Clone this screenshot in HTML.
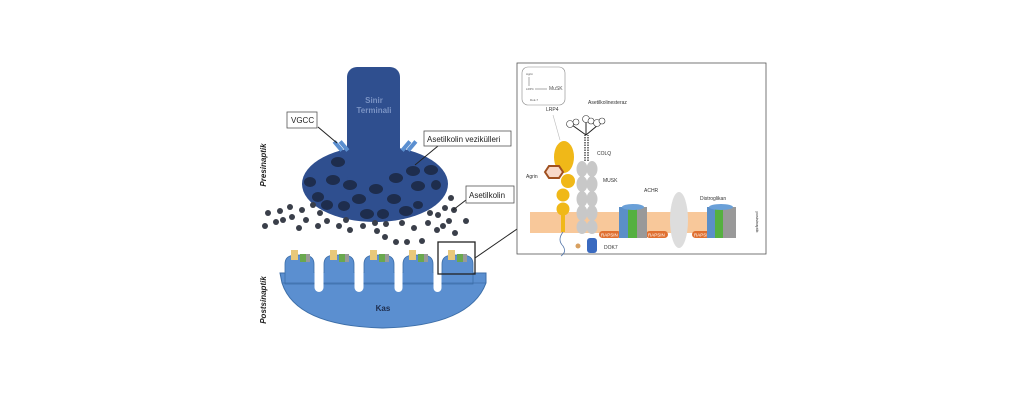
<!DOCTYPE html>
<html><head><meta charset="utf-8"><style>
body{margin:0;background:#fff;}
svg{display:block;font-family:"Liberation Sans",sans-serif;}
</style></head><body>
<svg width="1020" height="400" viewBox="0 0 1020 400">
<rect width="1020" height="400" fill="#fff"/>
<!-- nerve terminal -->
<ellipse cx="375" cy="184" rx="73" ry="38" fill="#2f4f8f"/>
<rect x="347" y="67" width="53" height="120" rx="10" fill="#2f4f8f"/>
<text x="374" y="103" font-size="8" font-weight="bold" fill="#7a93c4" text-anchor="middle">Sinir</text>
<text x="374" y="113" font-size="8" font-weight="bold" fill="#7a93c4" text-anchor="middle">Terminali</text>
<!-- VGCC channels -->
<g fill="#5b8fd0"><rect x="336" y="140" width="4" height="12" transform="rotate(-40 338 146)"/><rect x="342" y="140" width="4" height="12" transform="rotate(-40 344 146)"/>
<rect x="404" y="140" width="4" height="12" transform="rotate(40 406 146)"/><rect x="410" y="140" width="4" height="12" transform="rotate(40 412 146)"/></g>
<!-- vesicles -->
<g fill="#1e2d4d">
<ellipse cx="338" cy="162" rx="7" ry="5"/><ellipse cx="310" cy="182" rx="6" ry="5"/><ellipse cx="333" cy="180" rx="7" ry="5"/><ellipse cx="350" cy="185" rx="7" ry="5"/>
<ellipse cx="376" cy="189" rx="7" ry="5"/><ellipse cx="396" cy="178" rx="7" ry="5"/><ellipse cx="413" cy="171" rx="7" ry="5"/><ellipse cx="431" cy="170" rx="7" ry="5"/>
<ellipse cx="418" cy="186" rx="7" ry="5"/><ellipse cx="436" cy="185" rx="5" ry="5"/><ellipse cx="318" cy="197" rx="6" ry="5"/><ellipse cx="359" cy="199" rx="7" ry="5"/>
<ellipse cx="394" cy="199" rx="7" ry="5"/><ellipse cx="327" cy="205" rx="6" ry="5"/><ellipse cx="344" cy="206" rx="6" ry="5"/><ellipse cx="367" cy="214" rx="7" ry="5"/>
<ellipse cx="383" cy="214" rx="6" ry="5"/><ellipse cx="406" cy="211" rx="7" ry="5"/><ellipse cx="418" cy="205" rx="5" ry="4"/>
</g>
<g fill="#3a3f4a">
<circle cx="302" cy="210" r="3"/><circle cx="313" cy="205" r="3"/><circle cx="320" cy="213" r="3"/><circle cx="292" cy="217" r="3"/><circle cx="306" cy="220" r="3"/>
<circle cx="327" cy="221" r="3"/><circle cx="299" cy="228" r="3"/><circle cx="318" cy="226" r="3"/><circle cx="339" cy="226" r="3"/><circle cx="350" cy="230" r="3"/>
<circle cx="363" cy="226" r="3"/><circle cx="377" cy="231" r="3"/><circle cx="386" cy="224" r="3"/><circle cx="402" cy="223" r="3"/><circle cx="414" cy="228" r="3"/>
<circle cx="385" cy="237" r="3"/><circle cx="396" cy="242" r="3"/><circle cx="407" cy="242" r="3"/><circle cx="422" cy="241" r="3"/><circle cx="428" cy="223" r="3"/>
<circle cx="430" cy="213" r="3"/><circle cx="438" cy="215" r="3"/><circle cx="445" cy="208" r="3"/><circle cx="443" cy="226" r="3"/><circle cx="437" cy="230" r="3"/>
<circle cx="449" cy="221" r="3"/><circle cx="454" cy="210" r="3"/><circle cx="451" cy="198" r="3"/><circle cx="268" cy="213" r="3"/><circle cx="280" cy="211" r="3"/>
<circle cx="290" cy="207" r="3"/><circle cx="283" cy="220" r="3"/><circle cx="466" cy="221" r="3"/><circle cx="455" cy="233" r="3"/><circle cx="375" cy="223" r="3"/>
<circle cx="276" cy="222" r="3"/><circle cx="265" cy="226" r="3"/><circle cx="346" cy="220" r="3"/>
</g>
<!-- muscle -->
<path d="M280,273 L486,273 L486,283 Q470,326 383,328 Q296,326 282,283 Z" fill="#5b8fd0" stroke="#3c6ea8" stroke-width="1"/>
<g fill="#5b8fd0" stroke="#3c6ea8" stroke-width="0.8">
<path d="M285,284 V264 Q285,255 296,255 H303 Q314,255 314,264 V284 Z"/>
<path d="M324,284 V264 Q324,255 335,255 H343 Q354,255 354,264 V284 Z"/>
<path d="M364,284 V264 Q364,255 375,255 H383 Q394,255 394,264 V284 Z"/>
<path d="M403,284 V264 Q403,255 414,255 H422 Q433,255 433,264 V284 Z"/>
<path d="M442,284 V264 Q442,255 453,255 H462 Q473,255 473,264 V284 Z"/>
</g>
<rect x="286" y="273" width="186" height="10" fill="#5b8fd0"/>
<line x1="282" y1="283" x2="486" y2="283" stroke="#3c6ea8" stroke-width="0.8"/>
<g fill="#fff"><rect x="314.5" y="262" width="9" height="30" rx="4.5"/><rect x="354.5" y="262" width="9" height="30" rx="4.5"/><rect x="394.5" y="262" width="8" height="30" rx="4"/><rect x="433.5" y="262" width="8" height="30" rx="4"/></g>
<g>
<rect x="291" y="250" width="7" height="10" fill="#e8c87a"/><rect x="300" y="254" width="6" height="8" fill="#6aa84f"/><rect x="306" y="254" width="4" height="8" fill="#999"/>
<rect x="330" y="250" width="7" height="10" fill="#e8c87a"/><rect x="339" y="254" width="6" height="8" fill="#6aa84f"/><rect x="345" y="254" width="4" height="8" fill="#999"/>
<rect x="370" y="250" width="7" height="10" fill="#e8c87a"/><rect x="379" y="254" width="6" height="8" fill="#6aa84f"/><rect x="385" y="254" width="4" height="8" fill="#999"/>
<rect x="409" y="250" width="7" height="10" fill="#e8c87a"/><rect x="418" y="254" width="6" height="8" fill="#6aa84f"/><rect x="424" y="254" width="4" height="8" fill="#999"/>
<rect x="448" y="250" width="7" height="10" fill="#e8c87a"/><rect x="457" y="254" width="6" height="8" fill="#6aa84f"/><rect x="463" y="254" width="4" height="8" fill="#999"/>
</g>
<text x="383" y="311" font-size="8" font-weight="bold" fill="#1e2d4d" text-anchor="middle">Kas</text>
<!-- side labels -->
<text transform="translate(266,165) rotate(-90)" font-size="8" font-style="italic" font-weight="bold" fill="#222" text-anchor="middle">Presinaptik</text>
<text transform="translate(266,300) rotate(-90)" font-size="8" font-style="italic" font-weight="bold" fill="#222" text-anchor="middle">Postsinaptik</text>
<!-- callouts -->
<g stroke="#222" stroke-width="1" fill="none">
<line x1="318" y1="127" x2="337" y2="143"/>
<line x1="438" y1="146" x2="415" y2="165"/>
<line x1="466" y1="200" x2="453" y2="210"/>
<rect x="438" y="242" width="37" height="32" stroke-width="1.3"/>
<line x1="475" y1="258" x2="520" y2="227"/>
</g>
<g fill="#fff" stroke="#555" stroke-width="0.8">
<rect x="287" y="112" width="30" height="16"/><rect x="424" y="131" width="87" height="15"/><rect x="466" y="186" width="48" height="17"/>
</g>
<g font-size="8" fill="#222">
<text x="291" y="123">VGCC</text><text x="427" y="142">Asetilkolin vezikülleri</text><text x="469" y="198">Asetilkolin</text>
</g>
<!-- detail panel -->
<rect x="517" y="63" width="249" height="191" fill="#fff" stroke="#555" stroke-width="0.8"/>
<rect x="522" y="67" width="43" height="38" rx="6" fill="#fff" stroke="#888" stroke-width="0.6"/>
<g font-size="3" fill="#555"><text x="526" y="75">Agrin</text><text x="526" y="90">LRP4</text><text x="549" y="90" font-size="5">MuSK</text><text x="530" y="101">Dok-7</text></g>
<line x1="529" y1="77" x2="529" y2="86" stroke="#555" stroke-width="0.5"/><line x1="535" y1="89" x2="547" y2="89" stroke="#555" stroke-width="0.5"/>
<!-- membrane -->
<rect x="530" y="212" width="203" height="21" fill="#f8c89a"/>
<!-- LRP4 -->
<ellipse cx="564" cy="157" rx="10" ry="16" fill="#f0b818"/>
<circle cx="568" cy="181" r="7" fill="#f0b818"/><circle cx="563" cy="195" r="6.5" fill="#f0b818"/><circle cx="563" cy="209" r="6.5" fill="#f0b818"/>
<rect x="561" y="214" width="4" height="18" fill="#f0b818"/>
<path d="M563,232 Q557,240 563,246 Q567,252 561,256" stroke="#5577aa" fill="none" stroke-width="0.8"/>
<polygon points="545,172 549,166 559,166 563,172 559,178 549,178" fill="#f8d8c8" stroke="#a05020" stroke-width="2"/>
<text x="526" y="178" font-size="5" fill="#333">Agrin</text>
<text x="546" y="111" font-size="5" fill="#333">LRP4</text>
<line x1="553" y1="115" x2="560" y2="140" stroke="#bbb" stroke-width="0.6"/>
<!-- MuSK -->
<g fill="#c8c8c8"><ellipse cx="582" cy="169" rx="5.5" ry="8"/><ellipse cx="592" cy="169" rx="5.5" ry="8"/>
<ellipse cx="582" cy="184" rx="5.5" ry="8"/><ellipse cx="592" cy="184" rx="5.5" ry="8"/><ellipse cx="582" cy="199" rx="5.5" ry="8"/><ellipse cx="592" cy="199" rx="5.5" ry="8"/>
<ellipse cx="582" cy="213" rx="5.5" ry="8"/><ellipse cx="592" cy="213" rx="5.5" ry="8"/><ellipse cx="582" cy="227" rx="5.5" ry="7"/><ellipse cx="592" cy="227" rx="5.5" ry="7"/></g>
<text x="603" y="182" font-size="5" fill="#333">MUSK</text>
<text x="597" y="155" font-size="5" fill="#333">COLQ</text>
<text x="588" y="104" font-size="5" fill="#333">Asetilkolinesteraz</text>
<!-- ColQ stalk -->
<path d="M585,161 L585,135 M588,161 L588,135" stroke="#222" stroke-width="1.2" stroke-dasharray="1.5 1"/>
<path d="M586,135 L572,125 M586,135 L586,122 M586,135 L598,125" stroke="#222" stroke-width="1" fill="none"/>
<g fill="#fff" stroke="#333" stroke-width="0.6"><circle cx="570" cy="124" r="3.5"/><circle cx="576" cy="122" r="3"/><circle cx="586" cy="119" r="3.5"/><circle cx="591" cy="121" r="3"/><circle cx="597" cy="123" r="3.5"/><circle cx="602" cy="121" r="3"/></g>
<!-- rapsyn / Dok7 -->
<g fill="#e07030"><rect x="599" y="231" width="22" height="7" rx="3.5"/><rect x="646" y="231" width="22" height="7" rx="3.5"/><rect x="692" y="231" width="22" height="7" rx="3.5"/></g>
<g font-size="4.5" fill="#fff"><text x="601" y="236.5">RAPSIN</text><text x="648" y="236.5">RAPSIN</text><text x="694" y="236.5">RAPSIN</text></g>
<rect x="587" y="238" width="10" height="15" rx="3" fill="#3a6ac0"/>
<circle cx="578" cy="246" r="2.5" fill="#d8a060"/>
<text x="604" y="249" font-size="5" fill="#333">DOK7</text>
<!-- AChR 1 -->
<rect x="619" y="207" width="10" height="31" fill="#5b8fc8"/><rect x="628" y="207" width="10" height="31" fill="#55b040"/><rect x="637" y="207" width="10" height="31" fill="#999"/>
<ellipse cx="633" cy="207" rx="11" ry="3" fill="#6aa0d8"/>
<text x="644" y="192" font-size="5" fill="#333">ACHR</text>
<!-- dystroglycan -->
<ellipse cx="679" cy="220" rx="9" ry="28" fill="#ddd"/>
<text x="700" y="200" font-size="5" fill="#333">Distroglikan</text>
<!-- AChR 2 -->
<rect x="707" y="207" width="10" height="31" fill="#5b8fc8"/><rect x="715" y="207" width="9" height="31" fill="#55b040"/><rect x="723" y="207" width="13" height="31" fill="#999"/>
<ellipse cx="721" cy="207" rx="12" ry="3" fill="#6aa0d8"/>
<text transform="translate(756,222) rotate(90)" font-size="4" fill="#333" text-anchor="middle">postsinaptik</text>
</svg>
</body></html>
